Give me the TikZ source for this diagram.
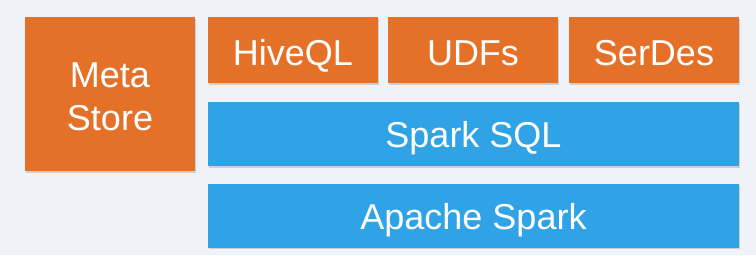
\documentclass[tikz,border=0pt]{standalone}
\usepackage{fontspec}
\setmainfont{Liberation Sans}
\usetikzlibrary{shadows}
\definecolor{bgpale}{HTML}{EFF3F8}
\definecolor{layerorange}{HTML}{E57129}
\definecolor{layerblue}{HTML}{2FA3E5}
\begin{document}
\begin{tikzpicture}[x=1pt,y=-1pt,
  layer/.style={rectangle, inner sep=0pt, text=white, align=center,
    font=\fontsize{36}{43}\selectfont, text depth=0pt,
    drop shadow={shadow xshift=0.6pt, shadow yshift=-1.6pt, opacity=0.25, fill=black!60}},
  hive/.style={layer, fill=layerorange},
  spark/.style={layer, fill=layerblue},
  topbox/.style={hive, text height=30.5pt, minimum width=170pt, minimum height=66pt},
  widebox/.style={spark, text height=27pt, minimum width=531pt, minimum height=64pt}]
  \fill[bgpale] (0,0) rectangle (756,255);
  \useasboundingbox (0,0) rectangle (756,255);
  % Metastore block on the left
  \node[hive, text height=72pt, minimum width=170pt, minimum height=154pt] (meta) at (110,94) {Meta\\Store};
  % Hive front-end components
  \node[topbox] (hiveql) at (293,50) {HiveQL};
  \node[topbox] (udfs) at (473,50) {UDFs};
  \node[topbox] (serdes) at (654,50) {SerDes};
  % Spark layers
  \node[widebox] (sql) at (473.5,134) {Spark SQL};
  \node[widebox] (core) at (473.5,215.5) {Apache Spark};
\end{tikzpicture}
\end{document}
